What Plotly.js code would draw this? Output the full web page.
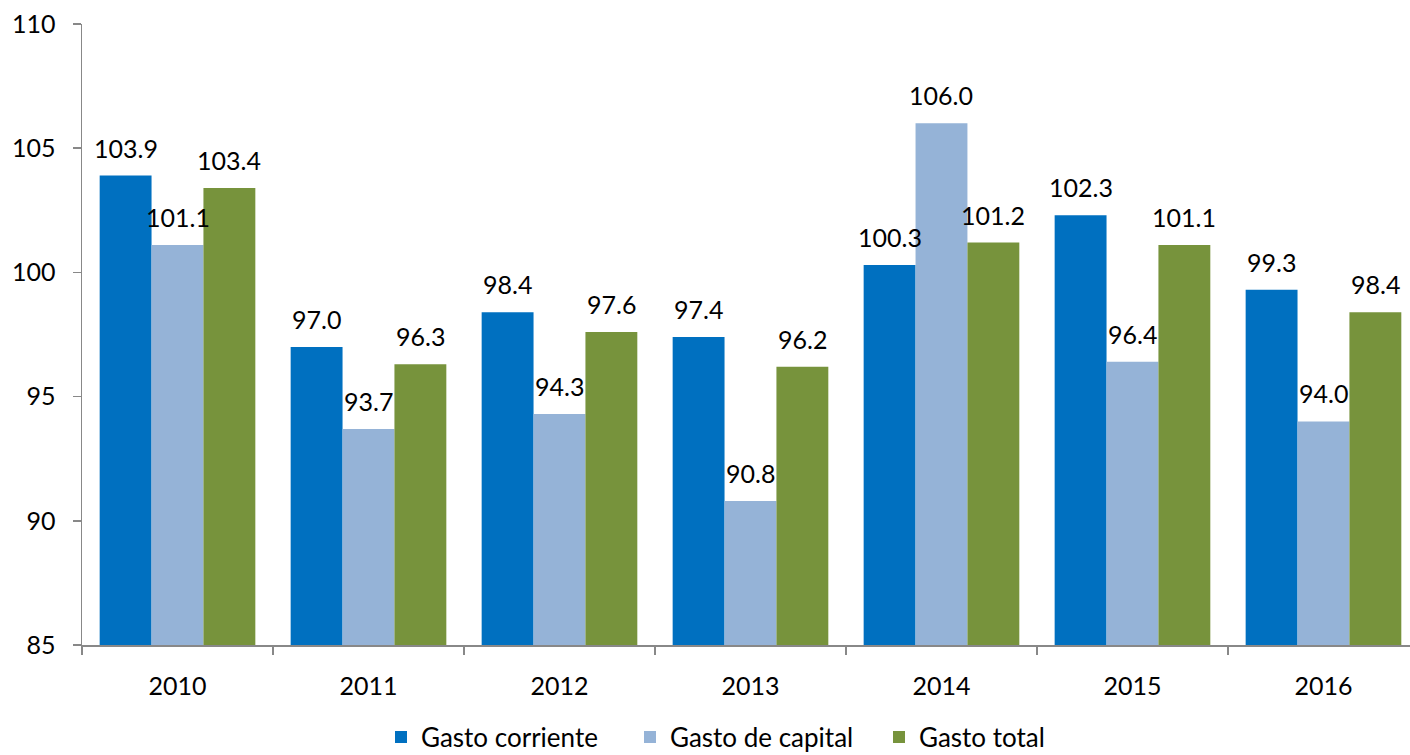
<!DOCTYPE html>
<html><head><meta charset="utf-8">
<script src="https://cdn.plot.ly/plotly-3.0.1.min.js"></script>
<style>html,body{margin:0;padding:0;overflow:hidden;background:#fff}</style>
</head><body>
<div id="chart" style="width:1410px;height:755px"></div>
<script>
const years = ['2010','2011','2012','2013','2014','2015','2016'];
const gastoCorriente = [103.9, 97.0, 98.4, 97.4, 100.3, 102.3, 99.3];
const gastoCapital = [101.1, 93.7, 94.3, 90.8, 106.0, 96.4, 94.0];
const gastoTotal = [103.4, 96.3, 97.6, 96.2, 101.2, 101.1, 98.4];
const yTicks = [85, 90, 95, 100, 105, 110];

const font = {family: 'Lato, "Open Sans", sans-serif', size: 25, color: '#000'};
const seriesDefs = [
  ['Gasto corriente', gastoCorriente, '#0070C0'],
  ['Gasto de capital', gastoCapital, '#95B3D7'],
  ['Gasto total', gastoTotal, '#77933C']
];
const data = seriesDefs.map(([name, y, color]) => ({
  type: 'bar', name: name, x: years, y: y,
  marker: {color: color}, hoverinfo: 'skip', offsetgroup: name
}));
const bargap = 0.185;
const groupW = 1 - bargap;
const barW = groupW / seriesDefs.length;
const annotations = [];
seriesDefs.forEach(([name, y], si) => {
  y.forEach((v, i) => {
    annotations.push({
      xref: 'x', yref: 'y', x: i - groupW / 2 + barW * (si + 0.5), y: v,
      text: v.toFixed(1), showarrow: false, yanchor: 'bottom', xanchor: 'center',
      yshift: 11, font: font
    });
  });
});
const layout = {
  width: 1410, height: 755,
  margin: {l: 82, r: 0, t: 24, b: 110},
  paper_bgcolor: '#fff', plot_bgcolor: '#fff',
  font: font,
  barmode: 'group', bargap: bargap, bargroupgap: 0,
  showlegend: true,
  annotations: annotations,
  legend: {orientation: 'h', xref: 'container', x: 381/1410, xanchor: 'left',
    yref: 'container', y: 1 - 737/755, yanchor: 'middle',
    font: Object.assign({}, font, {size: 26}), itemwidth: 30, traceorder: 'normal',
    entrywidth: 204, entrywidthmode: 'pixels'},
  xaxis: {type: 'category', range: [-0.5, 6.453], showline: true, linecolor: '#888', linewidth: 1.5,
    ticks: 'outside', tickson: 'boundaries', ticklen: 8, tickcolor: '#888', tickwidth: 1.5,
    ticklabelstandoff: 18,
    showgrid: false, zeroline: false, tickfont: font, fixedrange: true},
  yaxis: {range: [85, 110], tickvals: yTicks, showline: true, linecolor: '#888', linewidth: 1.5,
    ticks: 'outside', ticklen: 8, tickcolor: '#888', tickwidth: 1.5,
    ticklabelstandoff: 12,
    showgrid: false, zeroline: false, tickfont: font, fixedrange: true}
};
Plotly.newPlot('chart', data, layout, {displayModeBar: false, staticPlot: true});
</script>
</body></html>
